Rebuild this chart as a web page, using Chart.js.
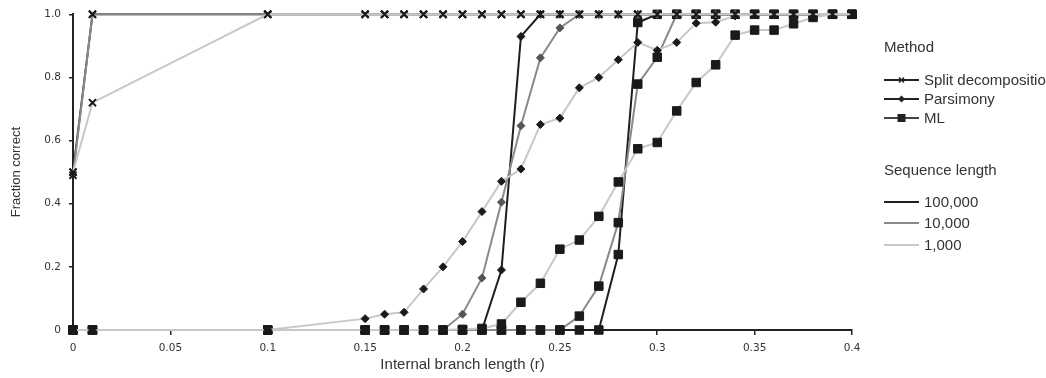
<!DOCTYPE html>
<html>
<head>
<meta charset="utf-8">
<script src="https://cdn.jsdelivr.net/npm/chart.js@4"></script>
<style>
  html, body { margin: 0; padding: 0; background: #fff; }
  #wrap { position: relative; width: 1046px; height: 378px; overflow: hidden; }
  #wrap canvas { position: absolute; left: 0; top: 0; }
  .lg { position: absolute; font: 15px "Liberation Sans", Arial, sans-serif; color: #333; white-space: nowrap; line-height: 16px; }
  .lg svg { position: absolute; left: 0; top: 2px; }
  .lg span { position: absolute; left: 40px; top: 0; }
</style>
</head>
<body>
<div id="wrap">
  <canvas id="chart" width="1046" height="378"></canvas>
  <div class="lg" style="left:884px; top:39px;">Method</div>
  <div class="lg" style="left:884px; top:72px; width:170px; height:16px;">
    <svg width="36" height="12"><line x1="0" y1="6" x2="35" y2="6" stroke="#222" stroke-width="2"/><path d="M15 3.5 L20 8.5 M20 3.5 L15 8.5" stroke="#222" stroke-width="1.5"/></svg><span>Split decomposition</span></div>
  <div class="lg" style="left:884px; top:91px; width:170px; height:16px;">
    <svg width="36" height="12"><line x1="0" y1="6" x2="35" y2="6" stroke="#222" stroke-width="2"/><path d="M17.5 2.5 L21 6 L17.5 9.5 L14 6 Z" fill="#222"/></svg><span>Parsimony</span></div>
  <div class="lg" style="left:884px; top:110px; width:170px; height:16px;">
    <svg width="36" height="12"><line x1="0" y1="6" x2="35" y2="6" stroke="#444" stroke-width="2"/><rect x="13.5" y="2" width="8" height="8" fill="#222"/></svg><span>ML</span></div>
  <div class="lg" style="left:884px; top:162px;">Sequence length</div>
  <div class="lg" style="left:884px; top:194px; width:170px; height:16px;">
    <svg width="36" height="12"><line x1="0" y1="6" x2="35" y2="6" stroke="#1f1f1f" stroke-width="2"/></svg><span>100,000</span></div>
  <div class="lg" style="left:884px; top:215px; width:170px; height:16px;">
    <svg width="36" height="12"><line x1="0" y1="6" x2="35" y2="6" stroke="#8a8a8a" stroke-width="2"/></svg><span>10,000</span></div>
  <div class="lg" style="left:884px; top:237px; width:170px; height:16px;">
    <svg width="36" height="12"><line x1="0" y1="6" x2="35" y2="6" stroke="#c8c8c8" stroke-width="2"/></svg><span>1,000</span></div>
</div>
<script>
// ── DATA ──
const branchLength = [0, 0.01, 0.1, 0.15, 0.16, 0.17, 0.18, 0.19, 0.2, 0.21, 0.22, 0.23, 0.24, 0.25,
  0.26, 0.27, 0.28, 0.29, 0.3, 0.31, 0.32, 0.33, 0.34, 0.35, 0.36, 0.37, 0.38, 0.39, 0.4];

const splitLong  = [0.50, 1, 1, 1, 1, 1, 1, 1, 1, 1, 1, 1, 1, 1, 1, 1, 1, 1, 1, 1, 1, 1, 1, 1, 1, 1, 1, 1, 1];
const splitMid   = [0.49, 1, 1, 1, 1, 1, 1, 1, 1, 1, 1, 1, 1, 1, 1, 1, 1, 1, 1, 1, 1, 1, 1, 1, 1, 1, 1, 1, 1];
const splitShort = [0.50, 0.72, 1, 1, 1, 1, 1, 1, 1, 1, 1, 1, 1, 1, 1, 1, 1, 1, 1, 1, 1, 1, 1, 1, 1, 1, 1, 1, 1];

const parsLong  = [0, 0, 0, 0, 0, 0, 0, 0, 0, 0, 0.19, 0.93, 1, 1, 1, 1, 1, 1, 1, 1, 1, 1, 1, 1, 1, 1, 1, 1, 1];
const parsMid   = [0, 0, 0, 0, 0, 0, 0, 0, 0.05, 0.165, 0.405, 0.647, 0.862, 0.957, 1, 1, 1, 1, 1, 1, 1, 1, 1, 1, 1, 1, 1, 1, 1];
const parsShort = [0, 0, 0, 0.036, 0.05, 0.056, 0.13, 0.2, 0.28, 0.375, 0.471, 0.51, 0.651, 0.671, 0.767, 0.80,
  0.856, 0.911, 0.886, 0.911, 0.972, 0.975, 0.995, 1, 1, 1, 1, 1, 1];

const mlLong  = [0, 0, 0, 0, 0, 0, 0, 0, 0, 0, 0, 0, 0, 0, 0, 0, 0.239, 0.974, 1, 1, 1, 1, 1, 1, 1, 1, 1, 1, 1];
const mlMid   = [0, 0, 0, 0, 0, 0, 0, 0, 0, 0, 0, 0, 0, 0, 0.044, 0.139, 0.34, 0.779, 0.864, 1, 1, 1, 1, 1, 1, 1, 1, 1, 1];
const mlShort = [0, 0, 0, 0, 0, 0, 0, 0, 0.002, 0.005, 0.019, 0.088, 0.148, 0.256, 0.285, 0.36, 0.469, 0.574,
  0.594, 0.694, 0.784, 0.84, 0.934, 0.95, 0.95, 0.97, 0.99, 1, 1];

const xTickLabels = ['0', '0.05', '0.1', '0.15', '0.2', '0.25', '0.3', '0.35', '0.4'];
const yTickLabels = ['0', '0.2', '0.4', '0.6', '0.8', '1.0'];

// ── STYLES ──
const LONG = '#1f1f1f', MID = '#8a8a8a', SHORT = '#c8c8c8', MARK = '#1a1a1a';
const AXIS = '#222';
const TICK_FONT = { family: '"DejaVu Sans", Verdana, sans-serif', size: 10.5 };

function series(vals, color, style, markColor) {
  const cross = style === 'crossRot';
  return {
    data: vals.map((v, i) => ({ x: branchLength[i], y: v })),
    borderColor: color, borderWidth: 2, tension: 0, clip: false,
    pointStyle: style,
    pointRadius: cross ? 5 : (style === 'rect' ? 6 : 4),
    pointBackgroundColor: markColor || MARK,
    pointBorderColor: markColor || MARK,
    pointBorderWidth: cross ? 2 : 1
  };
}

// first dataset is drawn on top
const datasets = [
  series(splitShort, SHORT, 'crossRot'),
  series(parsShort, SHORT, 'rectRot'),
  series(mlShort, SHORT, 'rect'),
  series(splitMid, MID, 'crossRot'),
  series(parsMid, MID, 'rectRot', '#555'),
  series(mlMid, MID, 'rect'),
  series(splitLong, LONG, 'crossRot'),
  series(parsLong, LONG, 'rectRot'),
  series(mlLong, LONG, 'rect')
];

new Chart(document.getElementById('chart'), {
  type: 'line',
  data: { datasets },
  options: {
    responsive: false, animation: false, events: [],
    layout: { padding: { left: 0, right: 194, top: 13, bottom: 0 } },
    plugins: { legend: { display: false }, tooltip: { enabled: false } },
    scales: {
      x: {
        type: 'linear', min: 0, max: 0.4,
        afterFit: s => { s.height = 48; },
        afterBuildTicks: s => { s.ticks = xTickLabels.map(t => ({ value: parseFloat(t) })); },
        ticks: { callback: (v, i) => xTickLabels[i], color: '#333', font: TICK_FONT, padding: 7, maxRotation: 0 },
        grid: { display: true, drawOnChartArea: false, drawTicks: true, tickLength: 5, color: AXIS, lineWidth: 1.5 },
        border: { display: true, color: AXIS, width: 2 },
        title: { display: true, text: 'Internal branch length (r)', color: '#333',
          font: { family: '"Liberation Sans", Arial, sans-serif', size: 15 }, padding: { top: 0, bottom: 4 } }
      },
      y: {
        type: 'linear', min: 0, max: 1,
        afterFit: s => { s.width = 73; },
        afterBuildTicks: s => { s.ticks = yTickLabels.map(t => ({ value: parseFloat(t) })); },
        ticks: { callback: (v, i) => yTickLabels[i], color: '#333', font: TICK_FONT, padding: 8 },
        grid: { display: true, drawOnChartArea: false, drawTicks: true, tickLength: 4, color: AXIS, lineWidth: 1.5 },
        border: { display: true, color: AXIS, width: 2 },
        title: { display: true, text: 'Fraction correct', color: '#333',
          font: { family: '"Liberation Sans", Arial, sans-serif', size: 13 }, padding: { top: 9, bottom: 0 } }
      }
    }
  }
});
</script>
</body>
</html>
